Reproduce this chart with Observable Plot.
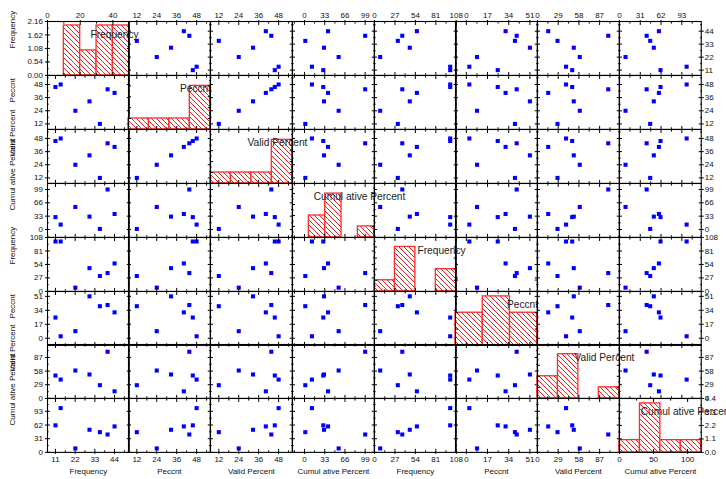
<!DOCTYPE html>
<html><head><meta charset="utf-8">
<script src="https://cdn.jsdelivr.net/npm/d3@7"></script>
<script src="https://cdn.jsdelivr.net/npm/@observablehq/plot@0.6"></script>
<style>
body{margin:0;background:#fff;}
#chart{position:relative;width:726px;height:479px;overflow:hidden;background:#fff;font-family:"Liberation Sans",Arial,sans-serif;}
#chart svg.cell{position:absolute;overflow:visible;}
</style></head><body>
<svg width="0" height="0" style="position:absolute">
<defs><pattern id="hatch" patternUnits="userSpaceOnUse" width="5" height="5">
<rect width="5" height="5" fill="#fff"/>
<path d="M0,0L5,5M-1,4L1,6M4,-1L6,1" stroke="#ff0000" stroke-width="0.9"/>
</pattern></defs></svg>
<div id="chart"></div>
<script>
// ---- data ----
const names = ["Frequency","Peccnt","Valid Percent","Cumul ative Percent","Frequency","Peccnt","Valid Percent","Cumul ative Percent"];
const frequency     = [11, 13.9, 22.1, 30, 35.8, 40.1, 44];
const peccnt        = [45.7, 48, 24, 32.6, 12, 43.6, 40.3];
const validPercent  = [45.7, 48, 24, 32.6, 12, 43.6, 40.3];
const cumulPercent  = [30.6, 12.1, 55.7, 31.8, 1.3, 99, 38.4];
const frequency2    = [100, 100, 7.5, 46.6, 30.8, 36.7, 56];
const peccnt2       = [25.2, 2.4, 8.6, 51, 39, 40.4, 31.5];
const validPercent2 = [48.6, 40, 59.2, 50.8, 28, 99.1, 15];
const cumulPercent2 = [61.2, 100.2, 9, 51.2, 45.8, 40.5, 58.8];
const series = [frequency, peccnt, validPercent, cumulPercent, frequency2, peccnt2, validPercent2, cumulPercent2];

// axis ranges and tick labels
const domains = [[6.55,52.2],[7.0,56.2],[7.0,56.2],[-19.6,113.8],[0,108],[-8.7,56.9],[0,114.5],[0,122]];
const ticks = [[11,22,33,44],[12,24,36,48],[12,24,36,48],[0,33,66,99],[0,27,54,81,108],[0,17,34,51],[0,29,58,87],[0,31,62,93]];

// histograms on the diagonal
const histCounts = [[0,2,1,2,2],[1,1,1,4],[1,1,1,4],[0,2,4,0,1],[1,4,0,2],[2,3,2],[2,4,0,1],[1,4,1,1]];
const histYMax = [2.16, 4.95, 4.95, 4.92, 4.85, 3.3, 4.88, 4.4];
const histFirstX = [0, 50];
const histFirstXTicks = [0, 20, 40];
const histFirstYTicks = [0, 0.54, 1.08, 1.62, 2.16];
const histLastX = [0, 120];
const histLastXTicks = [0, 50, 100];
const histLastYTicks = [0, 1.1, 2.2, 3.3, 4.4];

(function () {
  const N = 8, gridLeft = 46.7, gridTop = 21, cw = 81.75, ch = 53.9;
  const font = "'Liberation Sans', Arial, sans-serif";
  const txt = "#111";
  const chart = document.getElementById("chart");

  function minorOf(t, dom) {
    const out = [];
    const step = t.length > 1 ? t[1] - t[0] : 1;
    const lo = Math.min(dom[0], dom[1]), hi = Math.max(dom[0], dom[1]);
    for (let v = t[0] - step / 2; v <= hi; v += step) if (v >= lo) out.push(v);
    return out;
  }
  const blank = () => "";
  const intFmt = d => String(d);

  function innerTicks(xt, yt, xd, yd) {
    const m = [];
    const xm = minorOf(xt, xd), ym = minorOf(yt, yd);
    for (const a of ["top", "bottom"]) {
      m.push(Plot.axisX({anchor: a, ticks: xt, tickSize: -3, tickFormat: blank, label: null, stroke: "#000"}));
      m.push(Plot.axisX({anchor: a, ticks: xm, tickSize: -1.6, tickFormat: blank, label: null, stroke: "#000"}));
    }
    for (const a of ["left", "right"]) {
      m.push(Plot.axisY({anchor: a, ticks: yt, tickSize: -3, tickFormat: blank, label: null, stroke: "#000"}));
      m.push(Plot.axisY({anchor: a, ticks: ym, tickSize: -1.6, tickFormat: blank, label: null, stroke: "#000"}));
    }
    return m;
  }

  for (let r = 0; r < N; r++) {
    for (let c = 0; c < N; c++) {
      const diag = r === c;
      const marks = [];
      let xd, yd, xt, yt, xfmt = intFmt, yfmt = intFmt;
      if (diag) {
        xd = c === 0 ? histFirstX : c === N - 1 ? histLastX : domains[c];
        yd = [0, histYMax[r]];
        xt = c === 0 ? histFirstXTicks : c === N - 1 ? histLastXTicks : ticks[c];
        yt = r === 0 ? histFirstYTicks : r === N - 1 ? histLastYTicks : [0, 1, 2, 3, 4];
        if (r === 0) yfmt = d3.format(".2f");
        if (r === N - 1) yfmt = d3.format(".1f");
        const counts = histCounts[c];
        const w = (xd[1] - xd[0]) / counts.length;
        const bins = counts.map((count, i) => ({x1: xd[0] + i * w, x2: xd[0] + (i + 1) * w, count})).filter(d => d.count > 0);
        marks.push(Plot.rect(bins, {x1: "x1", x2: "x2", y1: 0, y2: "count", fill: "url(#hatch)", stroke: "#ff2a2a", strokeWidth: 1.3}));
      } else {
        xd = domains[c]; yd = domains[r]; xt = ticks[c]; yt = ticks[r];
        const pts = series[c].map((v, i) => ({x: v, y: series[r][i]}));
        marks.push(Plot.dot(pts, {x: "x", y: "y", symbol: "square", r: 2.3, fill: "#0000ff"}));
      }
      marks.push(...innerTicks(xt, yt, xd, yd));
      marks.push(Plot.frame({stroke: "#000", strokeWidth: 1.1}));
      if (diag) {
        marks.push(Plot.text([names[c]], {text: d => d, frameAnchor: "top-left", dx: 67, dy: 9, textAnchor: "middle", fontSize: 10.2, fill: "#222"}));
      }
      if (r === 0) marks.push(Plot.axisX({anchor: "top", ticks: xt, tickSize: 2, tickPadding: 2, fontSize: 8, label: null, tickFormat: xfmt, fill: txt}));
      if (r === N - 1) {
        marks.push(Plot.axisX({anchor: "bottom", ticks: xt, tickSize: 2, tickPadding: 1.5, fontSize: 8, label: null, tickFormat: xfmt, fill: txt}));
        marks.push(Plot.text([names[c]], {text: d => d, frameAnchor: "bottom", dy: 22, fontSize: 8, fill: txt}));
      }
      if (c === 0) {
        marks.push(Plot.axisY({anchor: "left", ticks: yt, tickSize: 2, tickPadding: 2.5, fontSize: 8, label: null, tickFormat: yfmt, fill: txt}));
        marks.push(Plot.text([names[r]], {text: d => d, frameAnchor: "left", dx: -35, rotate: -90, fontSize: 8, fill: txt}));
      }
      if (c === N - 1) marks.push(Plot.axisY({anchor: "right", ticks: yt, tickSize: 2, tickPadding: 1.5, fontSize: 8, label: null, tickFormat: yfmt, fill: txt}));

      const svg = Plot.plot({
        width: cw, height: ch,
        marginTop: 0, marginRight: 0, marginBottom: 0, marginLeft: 0,
        x: {domain: xd, axis: null, label: null},
        y: {domain: yd, axis: null, label: null},
        style: {background: "transparent", overflow: "visible", fontFamily: font, color: "#000"},
        marks
      });
      svg.classList.add("cell");
      svg.style.left = (gridLeft + c * cw) + "px";
      svg.style.top = (gridTop + r * ch) + "px";
      svg.style.maxWidth = "none";
      chart.appendChild(svg);
    }
  }
})();
</script>
</body></html>
